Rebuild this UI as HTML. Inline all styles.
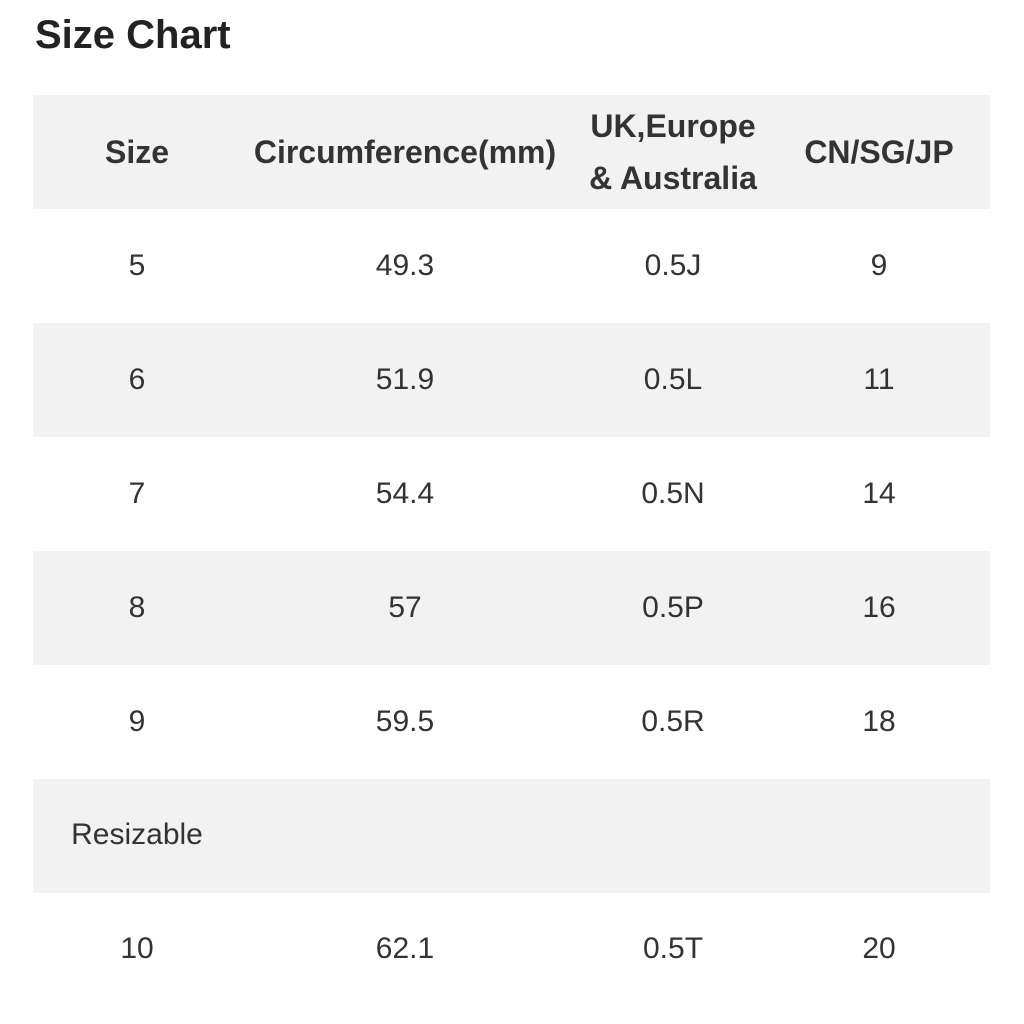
<!DOCTYPE html>
<html><head><style>
body{margin:0;width:1024px;height:1024px;background:#fff;position:relative;overflow:hidden;font-family:"Liberation Sans",Arial,sans-serif;color:#333}
.t{position:absolute;left:35px;top:13px;font-size:40px;font-weight:bold;color:#222}
.r{position:absolute;left:33px;width:957px;height:114px}
.g{background:#f2f2f2}
.c{position:absolute;transform:translate(-50%,-50%);font-size:30px;white-space:nowrap;text-align:center}
.h{font-weight:bold;font-size:32px;line-height:52px}
</style></head><body>
<div class="t">Size Chart</div>
<div class="r g" style="top:95px"></div>
<div class="r g" style="top:323px"></div>
<div class="r g" style="top:551px"></div>
<div class="r g" style="top:779px"></div>
<div class="c h" style="left:137px;top:152px">Size</div>
<div class="c h" style="left:405px;top:152px">Circumference(mm)</div>
<div class="c h" style="left:673px;top:152px">UK,Europe<br>&amp; Australia</div>
<div class="c h" style="left:879px;top:152px">CN/SG/JP</div>

<div class="c" style="left:137px;top:266px">5</div><div class="c" style="left:405px;top:266px">49.3</div><div class="c" style="left:673px;top:266px">0.5J</div><div class="c" style="left:879px;top:266px">9</div>
<div class="c" style="left:137px;top:380px">6</div><div class="c" style="left:405px;top:380px">51.9</div><div class="c" style="left:673px;top:380px">0.5L</div><div class="c" style="left:879px;top:380px">11</div>
<div class="c" style="left:137px;top:494px">7</div><div class="c" style="left:405px;top:494px">54.4</div><div class="c" style="left:673px;top:494px">0.5N</div><div class="c" style="left:879px;top:494px">14</div>
<div class="c" style="left:137px;top:608px">8</div><div class="c" style="left:405px;top:608px">57</div><div class="c" style="left:673px;top:608px">0.5P</div><div class="c" style="left:879px;top:608px">16</div>
<div class="c" style="left:137px;top:722px">9</div><div class="c" style="left:405px;top:722px">59.5</div><div class="c" style="left:673px;top:722px">0.5R</div><div class="c" style="left:879px;top:722px">18</div>
<div class="c" style="left:137px;top:835px">Resizable</div>
<div class="c" style="left:137px;top:949px">10</div><div class="c" style="left:405px;top:949px">62.1</div><div class="c" style="left:673px;top:949px">0.5T</div><div class="c" style="left:879px;top:949px">20</div>
</body></html>
